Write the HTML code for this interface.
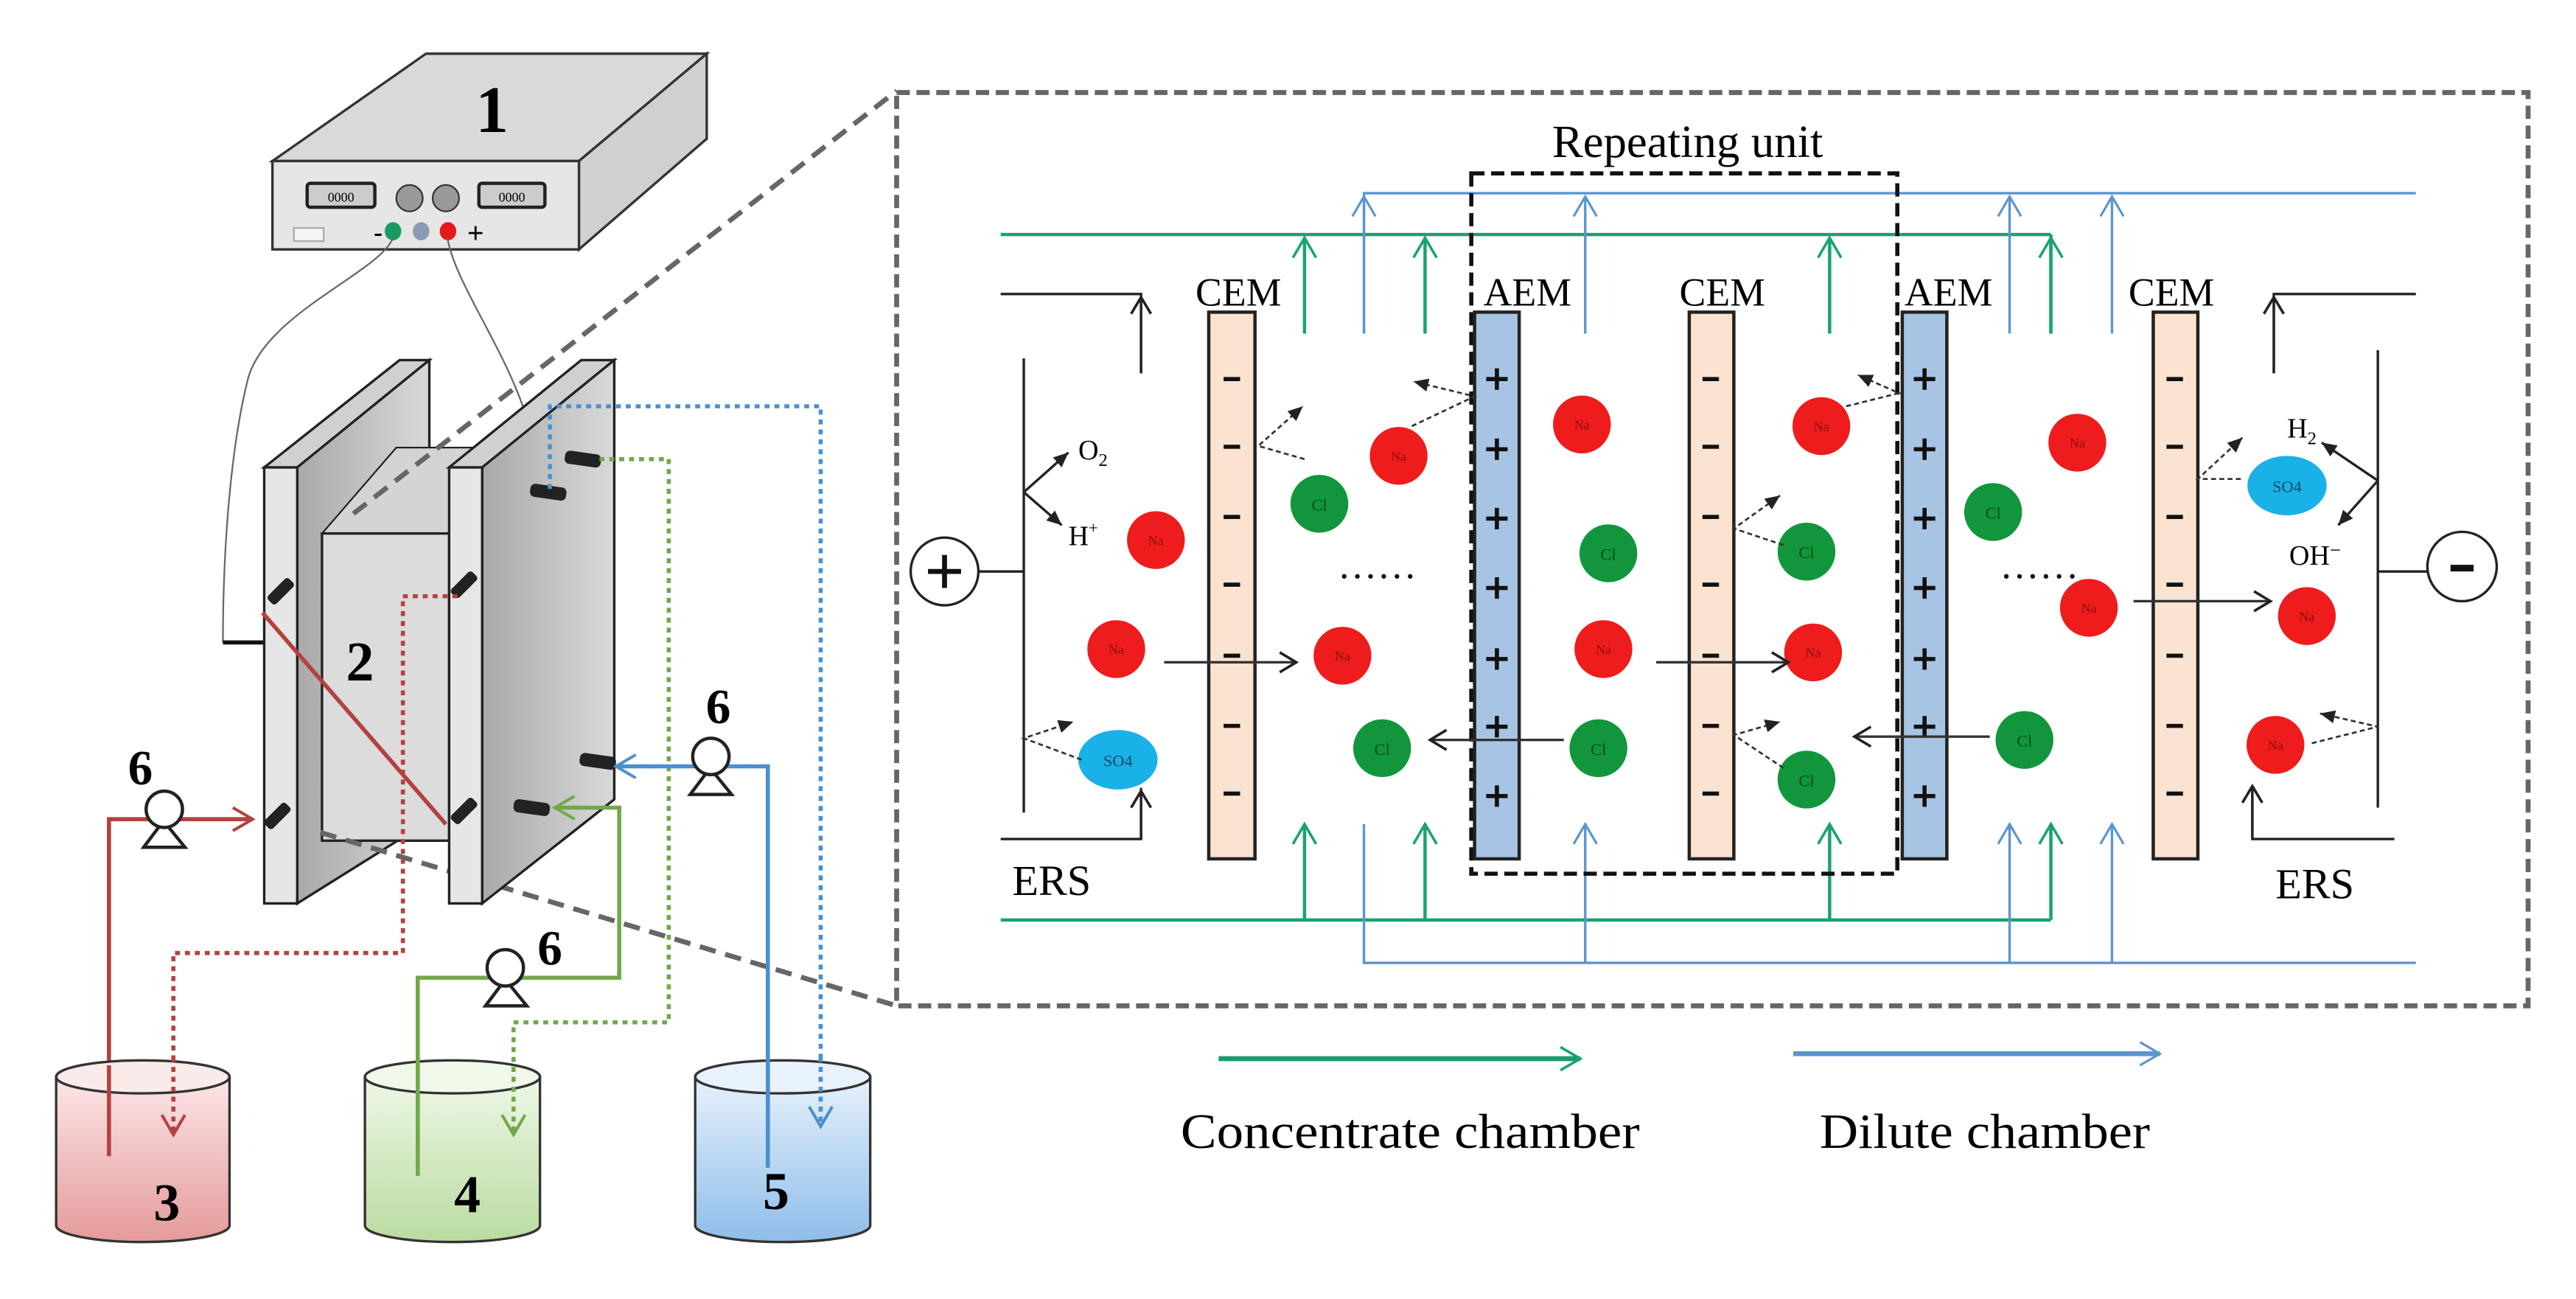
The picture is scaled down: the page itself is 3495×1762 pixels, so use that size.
<!DOCTYPE html>
<html><head><meta charset="utf-8"><style>
html,body{margin:0;padding:0;background:#fff;}
svg{display:block;}
text{font-family:"Liberation Serif",serif;}
</style></head><body>
<svg width="3495" height="1762" viewBox="0 0 1560 786.5" preserveAspectRatio="none" xmlns="http://www.w3.org/2000/svg">
<defs>
<marker id="ab" markerWidth="14" markerHeight="14" refX="12" refY="7" orient="auto" markerUnits="userSpaceOnUse"><path d="M2,1 L12,7 L2,13" fill="none" stroke="#222" stroke-width="1.6"/></marker>
<marker id="ag" markerWidth="16" markerHeight="16" refX="14" refY="8" orient="auto" markerUnits="userSpaceOnUse"><path d="M2,1 L14,8 L2,15" fill="none" stroke="#1aa36e" stroke-width="1.6"/></marker>
<marker id="abl" markerWidth="16" markerHeight="16" refX="14" refY="8" orient="auto" markerUnits="userSpaceOnUse"><path d="M2,1 L14,8 L2,15" fill="none" stroke="#5a95d0" stroke-width="1.4"/></marker>
<marker id="ar" markerWidth="16" markerHeight="16" refX="14" refY="8" orient="auto" markerUnits="userSpaceOnUse"><path d="M2,1 L14,8 L2,15" fill="none" stroke="#b5413f" stroke-width="1.8"/></marker>
<marker id="agr" markerWidth="16" markerHeight="16" refX="14" refY="8" orient="auto" markerUnits="userSpaceOnUse"><path d="M2,1 L14,8 L2,15" fill="none" stroke="#72a84a" stroke-width="1.8"/></marker>
<marker id="abu" markerWidth="16" markerHeight="16" refX="14" refY="8" orient="auto" markerUnits="userSpaceOnUse"><path d="M2,1 L14,8 L2,15" fill="none" stroke="#4a90d0" stroke-width="1.8"/></marker>
<marker id="ad" markerWidth="10" markerHeight="10" refX="9" refY="5" orient="auto" markerUnits="userSpaceOnUse"><path d="M0,1 L9,5 L0,9 Z" fill="#222"/></marker>
<linearGradient id="gr" x1="0" x2="0" y1="0" y2="1"><stop offset="0" stop-color="#fbe6e6"/><stop offset="1" stop-color="#e59a9a"/></linearGradient>
<linearGradient id="gg" x1="0" x2="0" y1="0" y2="1"><stop offset="0" stop-color="#eef7e6"/><stop offset="1" stop-color="#b9dba0"/></linearGradient>
<linearGradient id="gb" x1="0" x2="0" y1="0" y2="1"><stop offset="0" stop-color="#e6f1fc"/><stop offset="1" stop-color="#8fbde9"/></linearGradient>
<linearGradient id="gs" x1="0" x2="1" y1="0" y2="0"><stop offset="0" stop-color="#a9a9a9"/><stop offset="1" stop-color="#d9d9d9"/></linearGradient>
</defs>

<!-- Power supply -->
<polygon points="165,97.5 258,32.5 428,32.5 350.6,97.5" fill="#d9d9d9" stroke="#333" stroke-width="1.5"/>
<polygon points="350.6,97.5 428,32.5 428,84 350.6,151" fill="#d0d0d0" stroke="#333" stroke-width="1.5"/>
<rect x="165" y="97.5" width="185.6" height="53.5" fill="#e6e6e6" stroke="#333" stroke-width="1.5"/>
<text x="298" y="80" font-size="40" font-weight="bold" text-anchor="middle">1</text>
<rect x="186" y="111" width="41" height="14.5" rx="2" fill="#ccc" stroke="#222" stroke-width="2"/>
<rect x="290" y="111" width="40" height="14.5" rx="2" fill="#ccc" stroke="#222" stroke-width="2"/>
<text x="206.5" y="122" font-size="8" text-anchor="middle">0000</text>
<text x="310" y="122" font-size="8" text-anchor="middle">0000</text>
<ellipse cx="248" cy="120" rx="8" ry="8" fill="#999" stroke="#333"/>
<ellipse cx="270" cy="120" rx="8" ry="8" fill="#999" stroke="#333"/>
<rect x="178" y="138" width="18" height="8" fill="#f5f5f5" stroke="#aaa"/>
<text x="229" y="146" font-size="16" font-weight="bold" text-anchor="middle">-</text>
<ellipse cx="238" cy="140" rx="5" ry="5.5" fill="#1a9a60"/>
<ellipse cx="255" cy="140" rx="5" ry="5.5" fill="#8a9ab0"/>
<ellipse cx="271.3" cy="140" rx="5" ry="5.5" fill="#e21a1a"/>
<text x="288" y="147" font-size="18" font-weight="bold" text-anchor="middle">+</text>
<!-- wires -->
<path d="M238,144 C230,165 160,190 150,230 C140,270 135,330 135,389" fill="none" stroke="#666" stroke-width="1"/>
<line x1="135" y1="389" x2="160" y2="389" stroke="#111" stroke-width="2.5"/>
<path d="M271,144 C275,170 305,210 318,250 C330,290 330,360 345,375 C352,383 358,385 363,389" fill="none" stroke="#666" stroke-width="1"/>
<line x1="334" y1="389" x2="365" y2="389" stroke="#111" stroke-width="2.5"/>

<!-- Stack: left plate -->
<polygon points="160,283 180,283 260,218 242,218" fill="#d0d0d0" stroke="#222" stroke-width="1.5"/>
<polygon points="180,283 260,218 260,497 180,547" fill="url(#gs)" stroke="#222" stroke-width="1.5"/>
<rect x="160" y="283" width="20" height="264" fill="#e6e6e6" stroke="#222" stroke-width="1.5"/>
<!-- middle block -->
<polygon points="195,323 272,323 317,271 240,271" fill="#d4d4d4" stroke="#222" stroke-width="1"/>
<rect x="195" y="323" width="77" height="186" fill="#dcdcdc" stroke="#222" stroke-width="1.5"/>
<!-- dashed zoom lines -->
<line x1="214" y1="311" x2="543" y2="55" stroke="#666" stroke-width="3" stroke-dasharray="10,6"/>
<line x1="194" y1="504" x2="543" y2="609" stroke="#666" stroke-width="3" stroke-dasharray="10,6"/>
<!-- right plate -->
<polygon points="272,283 292,283 372,218 352,218" fill="#d0d0d0" stroke="#222" stroke-width="1.5"/>
<polygon points="292,283 372,218 372,484 292,547" fill="url(#gs)" stroke="#222" stroke-width="1.5"/>
<rect x="272" y="283" width="20" height="264" fill="#e6e6e6" stroke="#222" stroke-width="1.5"/>

<!-- connectors -->
<g fill="#222">
<rect x="-9" y="-3.5" width="18" height="7" rx="2" transform="translate(170,358) rotate(-45)"/>
<rect x="-9" y="-3.5" width="18" height="7" rx="2" transform="translate(168,494) rotate(-45)"/>
<rect x="-9" y="-3.5" width="18" height="7" rx="2" transform="translate(281,354) rotate(-45)"/>
<rect x="-9" y="-3.5" width="18" height="7" rx="2" transform="translate(281,491) rotate(-45)"/>
<rect x="-11" y="-4" width="22" height="8" rx="3" transform="translate(353,278) rotate(8)"/>
<rect x="-11" y="-4" width="22" height="8" rx="3" transform="translate(332,298) rotate(8)"/>
<rect x="-11" y="-4" width="22" height="8" rx="3" transform="translate(362,461) rotate(8)"/>
<rect x="-11" y="-4" width="22" height="8" rx="3" transform="translate(322,489) rotate(8)"/>
</g>
<text x="218" y="412" font-size="34" font-weight="bold" text-anchor="middle">2</text>

<!-- red circuit -->
<line x1="159" y1="371" x2="270" y2="499" stroke="#b5413f" stroke-width="2.5"/>
<polyline points="66,700 66,496 153,496" fill="none" stroke="#b5413f" stroke-width="2.5" marker-end="url(#ar)"/>
<polyline points="277,361 244,361 244,577 105,577 105,687" fill="none" stroke="#b5413f" stroke-width="2.5" stroke-dasharray="3,3" marker-end="url(#ar)"/>
<!-- green circuit -->
<polyline points="253,712 253,592 375,592 375,489 336,489" fill="none" stroke="#72a84a" stroke-width="2.5" marker-end="url(#agr)"/>
<polyline points="363,278 405,278 405,619 311,619 311,687" fill="none" stroke="#72a84a" stroke-width="2.5" stroke-dasharray="3,3" marker-end="url(#agr)"/>
<!-- blue circuit -->
<polyline points="465,707 465,464 373,464" fill="none" stroke="#4a90d0" stroke-width="2.5" marker-end="url(#abu)"/>
<polyline points="333,296 333,246 497,246 497,682" fill="none" stroke="#4a90d0" stroke-width="2.5" stroke-dasharray="3,3" marker-end="url(#abu)"/>

<!-- pumps -->
<g fill="#fff" stroke="#222" stroke-width="2">
<polygon points="87,513 99,497 112,513"/><circle cx="99.5" cy="490" r="11"/>
<polygon points="294,609 306,593 319,609"/><circle cx="306" cy="586" r="11"/>
<polygon points="418,481 430,465 443,481"/><circle cx="430.5" cy="458" r="11"/>
</g>
<g font-size="30" font-weight="bold">
<text x="85" y="475" text-anchor="middle">6</text>
<text x="333" y="584" text-anchor="middle">6</text>
<text x="435" y="438" text-anchor="middle">6</text>
</g>

<!-- tanks -->
<g stroke="#333" stroke-width="1.5">
<path d="M34,652 L34,742 A52.5,10 0 0 0 139,742 L139,652 Z" fill="url(#gr)"/>
<ellipse cx="86.5" cy="652" rx="52.5" ry="10" fill="#fbeaea"/>
<path d="M221,652 L221,742 A53,10 0 0 0 327,742 L327,652 Z" fill="url(#gg)"/>
<ellipse cx="274" cy="652" rx="53" ry="10" fill="#f0f8ea"/>
<path d="M421,652 L421,742 A53,10 0 0 0 527,742 L527,652 Z" fill="url(#gb)"/>
<ellipse cx="474" cy="652" rx="53" ry="10" fill="#e8f2fc"/>
</g>
<line x1="66" y1="645" x2="66" y2="700" stroke="#b5413f" stroke-width="2.5"/>
<line x1="105" y1="640" x2="105" y2="687" stroke="#b5413f" stroke-width="2.5" stroke-dasharray="3,3" marker-end="url(#ar)"/>
<line x1="253" y1="640" x2="253" y2="712" stroke="#72a84a" stroke-width="2.5"/>
<line x1="311" y1="640" x2="311" y2="687" stroke="#72a84a" stroke-width="2.5" stroke-dasharray="3,3" marker-end="url(#agr)"/>
<line x1="465" y1="640" x2="465" y2="707" stroke="#4a90d0" stroke-width="2.5"/>
<line x1="497" y1="640" x2="497" y2="682" stroke="#4a90d0" stroke-width="2.5" stroke-dasharray="3,3" marker-end="url(#abu)"/>
<g font-size="32" font-weight="bold" text-anchor="middle">
<text x="101" y="739">3</text><text x="283" y="734">4</text><text x="470" y="732">5</text>
</g>

<!-- Right panel dashed box -->
<rect x="543" y="56" width="988" height="553" fill="none" stroke="#666" stroke-width="3" stroke-dasharray="8,4"/>

<!-- flow lines -->
<g fill="none" stroke-width="2">
<polyline points="826,202 826,117 1463,117" stroke="#5a95d0" stroke-width="1.5"/>
<line x1="606" y1="142" x2="1242" y2="142" stroke="#1aa36e"/>
<line x1="1242" y1="142" x2="1242" y2="202" stroke="#1aa36e"/>
<line x1="606" y1="557" x2="1242" y2="557" stroke="#1aa36e"/>
<polyline points="826,499 826,583 1463,583" stroke="#5a95d0" stroke-width="1.5"/>
</g>
<g stroke="#1aa36e" stroke-width="2">
<line x1="790" y1="202" x2="790" y2="144" marker-end="url(#ag)"/>
<line x1="863" y1="202" x2="863" y2="144" marker-end="url(#ag)"/>
<line x1="1108" y1="202" x2="1108" y2="144" marker-end="url(#ag)"/>
<line x1="1242" y1="202" x2="1242" y2="144" marker-end="url(#ag)"/>
<line x1="790" y1="557" x2="790" y2="499" marker-end="url(#ag)"/>
<line x1="863" y1="557" x2="863" y2="499" marker-end="url(#ag)"/>
<line x1="1108" y1="557" x2="1108" y2="499" marker-end="url(#ag)"/>
<line x1="1242" y1="557" x2="1242" y2="499" marker-end="url(#ag)"/>
</g>
<g stroke="#5a95d0" stroke-width="1.5">
<line x1="826" y1="202" x2="826" y2="119" marker-end="url(#abl)"/>
<line x1="960" y1="202" x2="960" y2="119" marker-end="url(#abl)"/>
<line x1="1217" y1="202" x2="1217" y2="119" marker-end="url(#abl)"/>
<line x1="1279" y1="202" x2="1279" y2="119" marker-end="url(#abl)"/>
<line x1="960" y1="583" x2="960" y2="499" marker-end="url(#abl)"/>
<line x1="1217" y1="583" x2="1217" y2="499" marker-end="url(#abl)"/>
<line x1="1279" y1="583" x2="1279" y2="499" marker-end="url(#abl)"/>
</g>

<!-- repeating unit -->
<rect x="891" y="105" width="258" height="424" fill="none" stroke="#111" stroke-width="2.5" stroke-dasharray="8,4"/>
<text x="1022" y="95" font-size="28" text-anchor="middle">Repeating unit</text>

<!-- membranes -->
<g stroke="#222" stroke-width="2">
<rect x="732" y="189" width="28" height="331" fill="#fbe3d2"/>
<rect x="893" y="189" width="27" height="331" fill="#a8c4e4"/>
<rect x="1023" y="189" width="27" height="331" fill="#fbe3d2"/>
<rect x="1152" y="189" width="27" height="331" fill="#a8c4e4"/>
<rect x="1304" y="189" width="27" height="331" fill="#fbe3d2"/>
</g>
<g font-size="24" text-anchor="middle">
<text x="750" y="185">CEM</text>
<text x="925" y="185">AEM</text>
<text x="1043" y="185">CEM</text>
<text x="1180" y="185">AEM</text>
<text x="1315" y="185">CEM</text>
</g>
<g stroke="#111" stroke-width="2.5">
<path d="M741,229.5h10M741,270.5h10M741,313h10M741,354h10M741,397h10M741,439.5h10M741,480.5h10"/>
<path d="M1031,229.5h10M1031,270.5h10M1031,313h10M1031,354h10M1031,397h10M1031,439.5h10M1031,480.5h10"/>
<path d="M1312,229.5h10M1312,270.5h10M1312,313h10M1312,354h10M1312,397h10M1312,439.5h10M1312,480.5h10"/>
<path d="M900,229.5h13M906.5,223v13M900,272h13M906.5,265.5v13M900,314h13M906.5,307.5v13M900,356h13M906.5,349.5v13M900,399h13M906.5,392.5v13M900,440h13M906.5,433.5v13M900,482h13M906.5,475.5v13"/>
<path d="M1159,229.5h13M1165.5,223v13M1159,272h13M1165.5,265.5v13M1159,314h13M1165.5,307.5v13M1159,356h13M1165.5,349.5v13M1159,399h13M1165.5,392.5v13M1159,440h13M1165.5,433.5v13M1159,482h13M1165.5,475.5v13"/>
</g>

<!-- electrodes -->
<g stroke="#222" stroke-width="1.5" fill="none">
<line x1="620" y1="217" x2="620" y2="492"/>
<line x1="593" y1="346" x2="620" y2="346"/>
<circle cx="572" cy="346" r="20.5" fill="#fff"/>
<polyline points="606,178 691,178 691,226"/>
<line x1="691" y1="226" x2="691" y2="180" marker-end="url(#ab)"/>
<polyline points="606,508 691,508 691,477"/>
<line x1="691" y1="508" x2="691" y2="479" marker-end="url(#ab)"/>
<line x1="620" y1="298" x2="647" y2="274" marker-end="url(#ad)"/>
<line x1="620" y1="298" x2="643" y2="318" marker-end="url(#ad)"/>
<line x1="1440" y1="212" x2="1440" y2="489"/>
<line x1="1440" y1="346" x2="1470" y2="346"/>
<circle cx="1491" cy="343" r="21" fill="#fff"/>
<polyline points="1463,178 1377,178 1377,226"/>
<line x1="1377" y1="226" x2="1377" y2="180" marker-end="url(#ab)"/>
<polyline points="1450,508 1364,508 1364,476"/>
<line x1="1364" y1="508" x2="1364" y2="476" marker-end="url(#ab)"/>
<line x1="1440" y1="291" x2="1406" y2="268" marker-end="url(#ad)"/>
<line x1="1440" y1="291" x2="1416" y2="318" marker-end="url(#ad)"/>
</g>
<path d="M562,346h20M572,336v20" stroke="#111" stroke-width="3"/>
<path d="M1484,344h14" stroke="#111" stroke-width="4"/>
<g font-size="17">
<text x="653" y="278">O<tspan font-size="11" dy="4">2</tspan></text>
<text x="647" y="330">H<tspan font-size="10" dy="-7">+</tspan></text>
<text x="1394" y="265" text-anchor="middle">H<tspan font-size="11" dy="4">2</tspan></text>
<text x="1402" y="342" text-anchor="middle">OH<tspan font-size="12" dy="-5">−</tspan></text>
</g>
<g font-size="26">
<text x="613" y="542">ERS</text>
<text x="1378" y="544">ERS</text>
</g>

<!-- ions -->
<g font-size="8" text-anchor="middle">
<g fill="#ee1c1c">
<circle cx="700" cy="327" r="17.5"/><circle cx="676" cy="393" r="17.5"/><circle cx="847" cy="276" r="17.5"/><circle cx="813" cy="397" r="17.5"/>
<circle cx="958" cy="257" r="17.5"/><circle cx="971" cy="393" r="17.5"/><circle cx="1103" cy="258" r="17.5"/><circle cx="1098" cy="395" r="17.5"/>
<circle cx="1258" cy="268" r="17.5"/><circle cx="1265" cy="368" r="17.5"/><circle cx="1397" cy="373" r="17.5"/><circle cx="1378" cy="451" r="17.5"/>
</g>
<g fill="#11963c">
<circle cx="799" cy="305" r="17.5"/><circle cx="837" cy="453" r="17.5"/><circle cx="974" cy="335" r="17.5"/><circle cx="968" cy="453" r="17.5"/>
<circle cx="1094" cy="334" r="17.5"/><circle cx="1094" cy="472" r="17.5"/><circle cx="1207" cy="310" r="17.5"/><circle cx="1226" cy="448" r="17.5"/>
</g>
<g fill="#1ab0e8"><ellipse cx="677" cy="460" rx="24" ry="18"/><ellipse cx="1385" cy="294" rx="24" ry="18"/></g>
<g fill="#8a1010">
<text x="700" y="330">Na</text><text x="676" y="396">Na</text><text x="847" y="279">Na</text><text x="813" y="400">Na</text>
<text x="958" y="260">Na</text><text x="971" y="396">Na</text><text x="1103" y="261">Na</text><text x="1098" y="398">Na</text>
<text x="1258" y="271">Na</text><text x="1265" y="371">Na</text><text x="1397" y="376">Na</text><text x="1378" y="454">Na</text>
</g>
<g fill="#0a4a1c" font-size="10">
<text x="799" y="309">Cl</text><text x="837" y="457">Cl</text><text x="974" y="339">Cl</text><text x="968" y="457">Cl</text>
<text x="1094" y="338">Cl</text><text x="1094" y="476">Cl</text><text x="1207" y="314">Cl</text><text x="1226" y="452">Cl</text>
</g>
<g fill="#124a6a" font-size="10"><text x="677" y="464">SO4</text><text x="1385" y="298">SO4</text></g>
</g>

<!-- transport arrows -->
<g stroke="#333" stroke-width="1.5">
<line x1="705" y1="401" x2="785" y2="401" marker-end="url(#ab)"/>
<line x1="1003" y1="401" x2="1083" y2="401" marker-end="url(#ab)"/>
<line x1="947" y1="448" x2="866" y2="448" marker-end="url(#ab)"/>
<line x1="1205" y1="446" x2="1123" y2="446" marker-end="url(#ab)"/>
<line x1="1292" y1="364" x2="1375" y2="364" marker-end="url(#ab)"/>
</g>
<g stroke="#333" stroke-width="1.2" stroke-dasharray="3,2" fill="none">
<polyline points="790,278 762,270 789,246" marker-end="url(#ad)"/>
<polyline points="855,258 893,240 856,231" marker-end="url(#ad)"/>
<polyline points="655,460 620,447 650,437" marker-end="url(#ad)"/>
<polyline points="1080,330 1050,320 1078,300" marker-end="url(#ad)"/>
<polyline points="1080,465 1050,445 1078,437" marker-end="url(#ad)"/>
<polyline points="1118,246 1150,238 1125,227" marker-end="url(#ad)"/>
<polyline points="1357,290 1331,290 1358,265" marker-end="url(#ad)"/>
<polyline points="1400,450 1440,440 1405,432" marker-end="url(#ad)"/>
</g>
<g fill="#111"><text x="811" y="350" font-size="24" letter-spacing="2">......</text><text x="1212" y="350" font-size="24" letter-spacing="2">......</text></g>

<!-- legend -->
<line x1="738" y1="641" x2="957" y2="641" stroke="#1a9a6a" stroke-width="3" marker-end="url(#ag)"/>
<line x1="1086" y1="638" x2="1308" y2="638" stroke="#5a95d0" stroke-width="3" marker-end="url(#abl)"/>
<text x="715" y="695" font-size="30" textLength="278" lengthAdjust="spacingAndGlyphs">Concentrate chamber</text>
<text x="1102" y="695" font-size="30" textLength="200" lengthAdjust="spacingAndGlyphs">Dilute chamber</text>
</svg>
</body></html>
